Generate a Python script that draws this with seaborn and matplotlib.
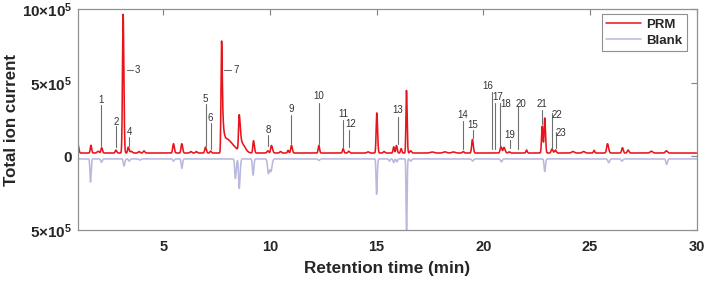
import numpy as np
import pandas as pd
import matplotlib
matplotlib.use("Agg")
import matplotlib.pyplot as plt
import seaborn as sns
from matplotlib.lines import Line2D

# ---------------- data ----------------
# PRM peaks: retention time (min), height above baseline, left/right widths (min)
prm_rt = [1.00, 1.61, 1.95, 2.11, 2.78, 3.12, 3.36, 3.50, 3.87, 4.10, 5.48, 5.87, 6.30, 6.55,
          6.98, 7.22, 7.73, 7.78, 7.90, 8.56, 8.68, 9.23, 9.90, 10.07, 10.50, 10.85, 11.01,
          12.29, 13.43, 13.70, 14.60, 15.01, 15.35, 15.80, 15.93, 16.15, 16.40, 16.60, 17.60,
          18.20, 18.60, 19.06, 19.49, 20.83, 20.97, 21.21, 22.03, 22.76, 22.88, 23.22, 23.38,
          24.20, 24.70, 25.19, 25.82, 26.52, 26.79, 27.88, 28.58]
prm_h = [6.0e4, 5.3e4, 1.2e4, 3.6e4, 2.0e4, 9.43e5, 4.0e4, 1.2e4, 1.0e4, 1.4e4, 6.3e4, 6.3e4, 1.0e4, 1.0e4,
         4.0e4, 1.3e4, 6.95e5, 2.3e5, 1.0e5, 2.4e5, 6.0e4, 8.3e4, 1.5e4, 5.1e4, 1.0e4, 1.8e4, 5.1e4,
         5.1e4, 2.9e4, 1.2e4, 8.0e3, 2.72e5, 1.0e4, 4.2e4, 5.1e4, 3.0e4, 4.25e5, 1.5e4, 7.0e3,
         8.0e3, 7.0e3, 1.0e4, 9.2e4, 4.2e4, 3.8e4, 8.0e3, 2.0e4, 1.82e5, 2.37e5, 2.7e4, 2.0e4,
         1.0e4, 1.0e4, 1.8e4, 6.3e4, 3.6e4, 2.0e4, 1.2e4, 1.5e4]
prm_wl = [0.02, 0.03, 0.05, 0.03, 0.03, 0.03, 0.03, 0.04, 0.04, 0.04, 0.035, 0.035, 0.04, 0.04,
          0.035, 0.03, 0.025, 0.03, 0.05, 0.03, 0.05, 0.03, 0.04, 0.035, 0.04, 0.03, 0.035,
          0.03, 0.03, 0.04, 0.05, 0.03, 0.04, 0.03, 0.03, 0.03, 0.025, 0.04, 0.08,
          0.08, 0.08, 0.04, 0.035, 0.04, 0.04, 0.04, 0.03, 0.03, 0.03, 0.04, 0.04,
          0.06, 0.06, 0.03, 0.04, 0.035, 0.04, 0.06, 0.05]
prm_wr = [0.04, 0.035, 0.05, 0.04, 0.04, 0.035, 0.04, 0.05, 0.04, 0.04, 0.04, 0.04, 0.04, 0.04,
          0.04, 0.04, 0.03, 0.05, 0.35, 0.05, 0.15, 0.04, 0.04, 0.05, 0.04, 0.03, 0.04,
          0.035, 0.035, 0.04, 0.05, 0.035, 0.04, 0.03, 0.035, 0.03, 0.03, 0.04, 0.08,
          0.08, 0.08, 0.04, 0.04, 0.04, 0.05, 0.04, 0.03, 0.035, 0.035, 0.04, 0.04,
          0.06, 0.06, 0.03, 0.05, 0.04, 0.04, 0.06, 0.05]
prm_base = 2.3e4

# Blank peaks (drawn downward)
blank_rt = [1.59, 2.10, 3.16, 3.40, 3.90, 5.48, 5.87, 8.38, 8.56, 9.21, 9.93, 10.05, 12.30,
            15.00, 15.60, 15.80, 15.95, 16.40, 16.60, 19.50, 20.85, 22.88, 25.88, 26.50, 28.59]
blank_h = [-1.57e5, -2.3e4, -4.8e4, -1.5e4, -8.0e3, -1.5e4, -6.4e4, -1.33e5, -2.0e5, -1.1e5,
           -1.0e5, -8.0e4, -1.0e4, -2.4e5, -1.5e4, -2.5e4, -2.0e4, -5.5e5, -1.5e4, -1.5e4,
           -2.0e4, -8.6e4, -2.5e4, -1.5e4, -3.7e4]
blank_wl = [0.025, 0.03, 0.03, 0.03, 0.04, 0.03, 0.03, 0.03, 0.03, 0.03, 0.04, 0.04, 0.04,
            0.025, 0.03, 0.03, 0.03, 0.02, 0.04, 0.04, 0.04, 0.03, 0.04, 0.04, 0.035]
blank_wr = [0.03, 0.04, 0.04, 0.04, 0.04, 0.04, 0.035, 0.04, 0.04, 0.035, 0.05, 0.05, 0.04,
            0.03, 0.03, 0.03, 0.03, 0.025, 0.04, 0.04, 0.04, 0.035, 0.04, 0.04, 0.04]
blank_base = -1.7e4

# Peak annotations: label, line rt, line bottom, line top, text rt, text value
ann_label = ['1', '2', '4', '5', '6', '8', '9', '10', '11', '12', '13', '14', '15',
             '16', '17', '18', '19', '20', '21', '22', '23']
ann_line_rt = [2.064, 2.781, 3.404, 6.984, 7.218, 9.918, 10.981, 12.293, 13.432, 13.699, 15.98,
               19.055, 19.524, 20.386, 20.527, 20.761, 21.244, 21.633, 22.757, 23.226, 23.385]
ann_line_lo = [6.8e4, 6.1e4, 7.4e4, 7.4e4, 4.7e4, 7.4e4, 8.1e4, 8.1e4, 5.4e4, 6.1e4, 8.1e4,
               4.7e4, 1.22e5, 4.7e4, 4.7e4, 6.8e4, 5.4e4, 4.7e4, 2.23e5, 5.4e4, 5.4e4]
ann_line_hi = [3.51e5, 2.03e5, 1.35e5, 3.58e5, 2.30e5, 1.42e5, 2.84e5, 3.65e5, 2.50e5, 1.82e5, 2.70e5,
               2.43e5, 1.76e5, 4.39e5, 3.65e5, 3.65e5, 1.08e5, 3.40e5, 3.18e5, 2.97e5, 1.69e5]
ann_text_rt = [2.064, 2.781, 3.404, 6.984, 7.218, 9.918, 10.981, 12.293, 13.432, 13.79, 15.98,
               19.055, 19.524, 20.199, 20.667, 21.056, 21.244, 21.759, 22.757, 23.446, 23.634]
ann_text_v = [3.85e5, 2.32e5, 1.67e5, 3.90e5, 2.61e5, 1.78e5, 3.22e5, 4.07e5, 2.91e5, 2.23e5, 3.13e5,
              2.84e5, 2.16e5, 4.75e5, 4.01e5, 3.56e5, 1.42e5, 3.56e5, 3.58e5, 2.84e5, 1.62e5]
# dash-style labels (3 and 7)
dash_label = ['3', '7']
dash_rt0 = [3.282, 7.842]
dash_rt1 = [3.577, 8.170]
dash_v = [5.88e5, 5.88e5]

x_ticks = [5, 10, 15, 20, 25, 30]
y_ticks = [-5e5, 0, 5e5, 1e6]
y_tick_labels = ['5×10$^{5}$', '0', '5×10$^{5}$', '10×10$^{5}$']

# ---------------- style ----------------
main_font = 'Liberation Sans'
sns.set_style("white")
plt.rcParams['font.family'] = [main_font, 'DejaVu Sans']
plt.rcParams['mathtext.fontset'] = 'custom'
plt.rcParams['mathtext.rm'] = main_font + ':bold'
plt.rcParams['mathtext.it'] = main_font + ':bold'
plt.rcParams['mathtext.bf'] = main_font + ':bold'
plt.rcParams['mathtext.default'] = 'rm'


def build(t, base, rt, h, wl, wr):
    y = np.full_like(t, base)
    for r, hh, a, b in zip(rt, h, wl, wr):
        w = np.where(t < r, a, b)
        y = y + hh * np.exp(-0.5 * ((t - r) / w) ** 2)
    return y


t = np.linspace(1.0, 30.0, 6000)
prm = build(t, prm_base, prm_rt, prm_h, prm_wl, prm_wr)
blank = build(t, blank_base, blank_rt, blank_h, blank_wl, blank_wr)

df = pd.concat([
    pd.DataFrame({'time': t, 'signal': prm, 'sample': 'PRM'}),
    pd.DataFrame({'time': t, 'signal': blank, 'sample': 'Blank'}),
])

PRM_C = '#E8141B'
BLANK_C = '#B9B9DE'

fig = plt.figure(figsize=(7.08, 2.83), dpi=100)
ax = fig.add_axes([0.110, 0.187, 0.874, 0.781])

sns.lineplot(data=df, x='time', y='signal', hue='sample', hue_order=['Blank', 'PRM'],
             palette={'PRM': PRM_C, 'Blank': BLANK_C}, estimator=None, sort=False,
             linewidth=1.15, ax=ax, legend=False)

# annotations
for lab, lx, lo, hi, tx, tv in zip(ann_label, ann_line_rt, ann_line_lo, ann_line_hi,
                                    ann_text_rt, ann_text_v):
    ax.plot([lx, lx], [lo, hi], color='#6e6e6e', lw=0.8)
    ax.text(tx, tv, lab, ha='center', va='center', fontsize=7, color='#333333')
for lab, a, b, v in zip(dash_label, dash_rt0, dash_rt1, dash_v):
    ax.plot([a, b], [v, v], color='#6e6e6e', lw=0.8)
    ax.text(b + 0.1, v, lab, ha='left', va='center', fontsize=7, color='#333333')

ax.set_xlim(1, 30)
ax.set_ylim(-5e5, 1e6)
ax.set_xticks(x_ticks)
ax.set_xticklabels([str(v) for v in x_ticks], fontsize=10.5, fontweight='bold')
ax.set_yticks(y_ticks)
ax.set_yticklabels(y_tick_labels, fontsize=11, fontweight='bold')
ax.tick_params(direction='in', top=True, right=True, length=4, color='#808080', width=0.8,
               pad=4)
ax.tick_params(axis='x', pad=7)
for s in ax.spines.values():
    s.set_color('#909090')
    s.set_linewidth(0.9)
ax.set_xlabel('Retention time (min)', fontsize=12.3, fontweight='bold', labelpad=5)
ax.set_ylabel('Total ion current', fontsize=12.2, fontweight='bold', labelpad=2)

handles = [Line2D([], [], color=PRM_C, lw=1.1), Line2D([], [], color=BLANK_C, lw=1.1)]
leg = ax.legend(handles, ['PRM', 'Blank'], loc='upper right', bbox_to_anchor=(0.984, 0.977),
                borderaxespad=0, fancybox=False, framealpha=1, edgecolor='#909090',
                handlelength=2.6, prop={'weight': 'bold', 'size': 9.5}, borderpad=0.35,
                labelspacing=0.25, handletextpad=0.4)
leg.get_frame().set_linewidth(0.8)

fig.savefig('out.png', dpi=100)
